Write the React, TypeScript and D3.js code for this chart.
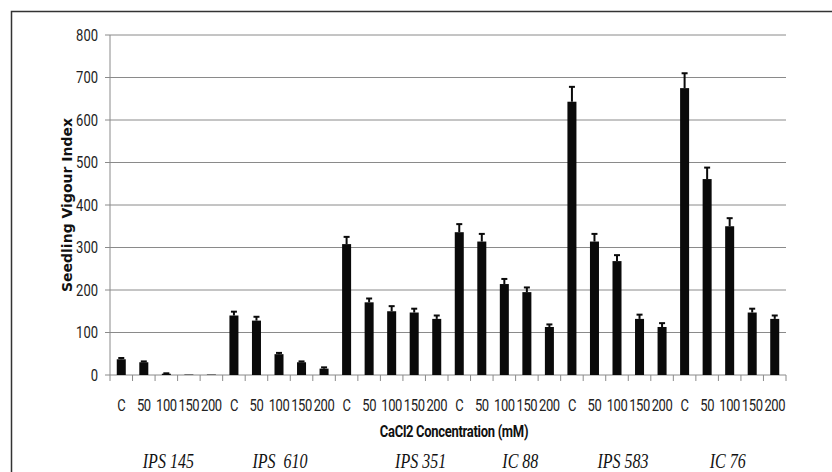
import React from "react";
import * as d3 from "d3";

const categories = ["C", "50", "100", "150", "200"];
const groups = ["IPS 145", "IPS  610", "IPS 351", "IC 88", "IPS 583", "IC 76"];
const values = [
  37, 30, 3, 1, 1,
  140, 128, 49, 30, 15,
  308, 171, 150, 147, 132,
  336, 314, 214, 195, 113,
  643, 314, 268, 132, 113,
  675, 461, 350, 147, 132,
];
const errors = [
  3, 2, 1, 0, 0,
  9, 9, 3, 2, 3,
  17, 9, 12, 9, 8,
  19, 18, 12, 11, 6,
  35, 18, 14, 10, 9,
  35, 27, 19, 9, 8,
];
const yTicks = [0, 100, 200, 300, 400, 500, 600, 700, 800];
const groupNudge = [2, 1, 29, 16, 6, -2];

export default function App() {
  const W = 832, H = 472;
  const x0 = 110, x1 = 786, y0 = 375, y1 = 35;
  const labels = groups.flatMap((g, gi) => categories.map((c, ci) => `${gi}-${ci}`));
  const x = d3.scaleBand().domain(labels).range([x0, x1]).paddingInner(0.6).paddingOuter(0.3);
  const xb = d3.scaleBand().domain(labels).range([x0, x1]);
  const y = d3.scaleLinear().domain([0, 800]).range([y0, y1]);
  const sans = "'Roboto', 'Liberation Sans', sans-serif";
  return (
    <svg width={W} height={H} style={{ position: "absolute", left: 0, top: 0, background: "#fff" }}>
      <rect x={0} y={0} width={W} height={H} fill="#fff" />
      <path d={`M11.5,${H} V11.5 H${W}`} fill="none" stroke="#333" strokeWidth={1.5} />
      {yTicks.map((t) => (
        <g key={t}>
          <line x1={x0} x2={x1} y1={y(t)} y2={y(t)} stroke="#8a8a8a" strokeWidth={1} />
          <line x1={x0 - 5} x2={x0} y1={y(t)} y2={y(t)} stroke="#8a8a8a" strokeWidth={1} />
          <text
            transform={`translate(98,${y(t)}) scale(1,1.25)`}
            dy="0.35em"
            textAnchor="end"
            fontFamily={sans}
            fontSize={13}
            fill="#222"
          >
            {t}
          </text>
        </g>
      ))}
      <line x1={x0} x2={x0} y1={y1} y2={y0} stroke="#8a8a8a" strokeWidth={1} />
      {labels.map((l) => (
        <line key={"t" + l} x1={xb(l)!} x2={xb(l)!} y1={y0} y2={y0 + 6} stroke="#8a8a8a" strokeWidth={1} />
      ))}
      <line x1={x1} x2={x1} y1={y0} y2={y0 + 6} stroke="#8a8a8a" strokeWidth={1} />
      {labels.map((l, i) => {
        const cx = x(l)! + x.bandwidth() / 2;
        const v = values[i];
        const e = errors[i];
        return (
          <g key={"b" + l}>
            <rect x={x(l)!} y={y(v)} width={x.bandwidth()} height={y0 - y(v)} fill="#0a0a0a" />
            {e > 0 && (
              <g stroke="#0a0a0a" strokeWidth={2}>
                <line x1={cx} x2={cx} y1={y(v)} y2={y(v + e)} />
                <line x1={cx - 3} x2={cx + 3} y1={y(v + e)} y2={y(v + e)} />
              </g>
            )}
          </g>
        );
      })}
      {labels.map((l, i) => (
        <text
          key={"l" + l}
          transform={`translate(${xb(l)! + xb.bandwidth() / 2},405) scale(1,1.25)`}
          dy="0.35em"
          textAnchor="middle"
          fontFamily={sans}
          fontSize={13}
          letterSpacing={-0.4}
          fill="#222"
        >
          {categories[i % 5]}
        </text>
      ))}
      <text
        transform={`translate(67,${(y0 + y1) / 2}) rotate(-90)`}
        textAnchor="middle"
        dy="0.35em"
        fontFamily="'DejaVu Sans', sans-serif"
        fontWeight="bold"
        fontSize={14}
        fill="#111"
      >
        Seedling Vigour Index
      </text>
      <text
        transform={`translate(454,432) scale(1,1.2)`}
        dy="0.35em"
        textAnchor="middle"
        fontFamily={sans}
        fontWeight="bold"
        fontSize={13}
        letterSpacing={-0.3}
        fill="#111"
      >
        CaCl2 Concentration (mM)
      </text>
      {groups.map((g, gi) => {
        const first = xb(`${gi}-0`)!;
        const cx = first + xb.bandwidth() * 2.5 + groupNudge[gi];
        return (
          <text
            key={g}
            transform={`translate(${cx},461) scale(1,1.25)`}
            dy="0.35em"
            textAnchor="middle"
            fontFamily="'Liberation Serif', serif"
            fontStyle="italic"
            fontSize={16}
            fill="#111"
            style={{ whiteSpace: "pre" }}
          >
            {g}
          </text>
        );
      })}
    </svg>
  );
}
